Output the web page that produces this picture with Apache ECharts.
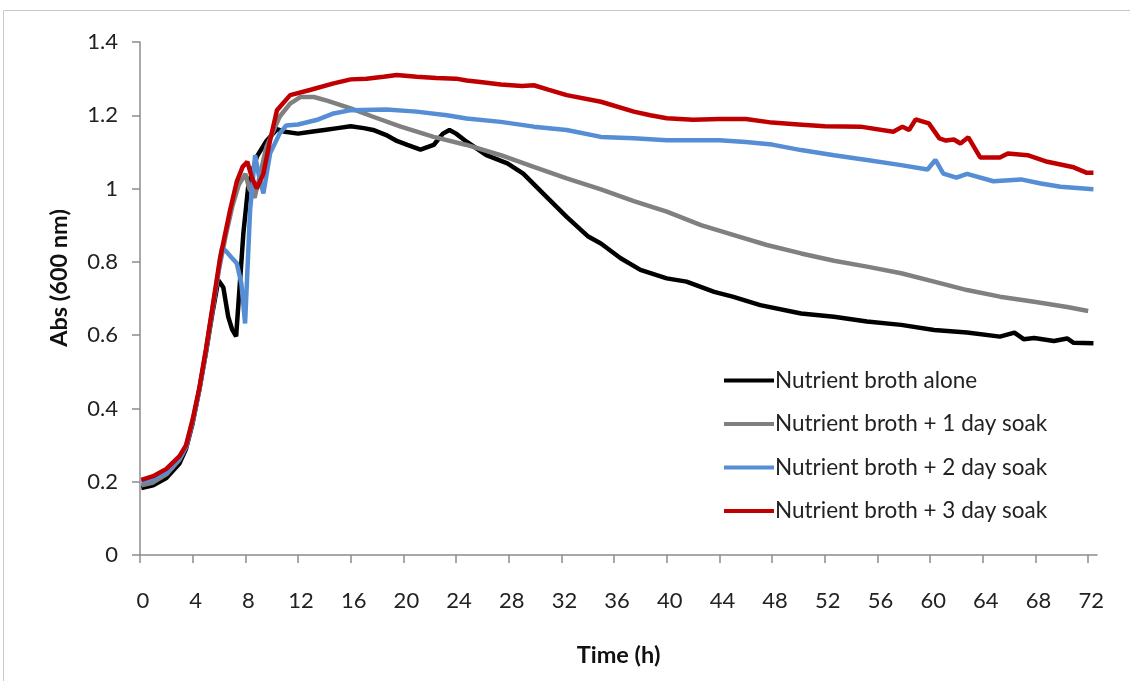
<!DOCTYPE html>
<html>
<head>
<meta charset="utf-8">
<script src="https://cdn.jsdelivr.net/npm/echarts@6/dist/echarts.min.js"></script>
<style>
html,body{margin:0;padding:0;background:#fff;}
#chart{width:1130px;height:681px;}
</style>
</head>
<body>
<div id="chart"></div>
<script>
// ---- Data (time in hours, absorbance at 600 nm) ----
const seriesNames = [
  'Nutrient broth alone',
  'Nutrient broth + 1 day soak',
  'Nutrient broth + 2 day soak',
  'Nutrient broth + 3 day soak'
];

const blackTime = [0.1,1,2,3,3.5,4,4.5,5,5.5,5.95,6.33,6.7,7.0,7.3,7.6,7.85,8.23,8.87,9.6,10.4,11,12,13,14,15,16,17,17.7,18.7,19.5,20.3,21.3,22.3,23,23.5,24,24.8,26.3,27.9,29.1,30.6,32.4,34,35,36.5,38,40,41.5,43.6,45,47.1,50.2,52.7,55.2,57.8,60.3,62.8,65.3,66.4,67.1,67.9,69.4,70.4,70.9,72.4];
const blackAbs  = [0.183,0.19,0.21,0.25,0.29,0.36,0.45,0.55,0.66,0.75,0.73,0.65,0.615,0.597,0.75,0.878,1.01,1.087,1.13,1.162,1.155,1.15,1.155,1.16,1.165,1.17,1.165,1.16,1.146,1.13,1.119,1.106,1.119,1.15,1.16,1.15,1.128,1.091,1.069,1.041,0.987,0.923,0.87,0.85,0.81,0.778,0.755,0.746,0.718,0.705,0.682,0.659,0.650,0.637,0.628,0.614,0.607,0.596,0.607,0.589,0.592,0.584,0.591,0.579,0.578];

const grayTime = [0.1,1,2,3,3.5,4,4.5,5,5.5,6,6.5,7,7.5,8.0,8.3,8.7,9.0,9.6,10.6,11.4,12.2,13.2,14.2,16,17.7,19.8,22.3,24.8,27.4,29.9,32.4,35,37.5,40,42.6,45.1,47.6,50.2,52.7,55.2,57.8,60.3,62.8,65.3,67.9,70.4,72];
const grayAbs  = [0.19,0.198,0.22,0.26,0.295,0.365,0.45,0.555,0.67,0.78,0.87,0.95,1.01,1.04,1.0,0.975,1.02,1.114,1.196,1.232,1.25,1.25,1.24,1.219,1.196,1.169,1.141,1.119,1.091,1.059,1.028,0.998,0.966,0.937,0.90,0.873,0.846,0.823,0.803,0.787,0.769,0.746,0.723,0.705,0.691,0.677,0.666];

const blueTime = [0.1,1,2,3,3.5,4,4.5,5,5.5,5.9,6.2,6.46,7.0,7.35,7.7,7.98,8.36,8.74,9.0,9.37,9.88,10.6,11.1,12,13.4,14.7,16,18.7,21,23.3,24.8,27.4,29.9,32.4,35,37.5,40,44,46,48,50.2,52.7,55.2,57.8,59.8,60.4,61,62,62.8,64.8,66.9,68.4,69.9,72.4];
const blueAbs  = [0.2,0.208,0.225,0.262,0.297,0.365,0.45,0.555,0.67,0.76,0.835,0.832,0.81,0.796,0.74,0.632,0.941,1.091,1.04,0.987,1.096,1.15,1.172,1.175,1.187,1.205,1.214,1.216,1.21,1.2,1.191,1.182,1.169,1.16,1.141,1.137,1.132,1.132,1.127,1.12,1.105,1.091,1.078,1.064,1.052,1.078,1.041,1.030,1.040,1.02,1.025,1.014,1.005,0.998];

const redTime = [0.1,1,2,3,3.5,4,4.5,5,5.5,6.08,6.84,7.35,7.8,8.15,8.5,8.87,9.37,9.88,10.4,11.4,12.9,14.7,16,17.2,18.5,19.5,21,22.5,24,24.8,26,27.4,29,29.9,31,32.4,35,37.5,38.75,40,42,44,46,48,50,52,54.7,57.2,57.9,58.4,58.9,59.9,60.7,61.2,61.8,62.3,62.9,63.8,65.3,65.9,67.4,68.9,70.9,71.9,72.4];
const redAbs  = [0.205,0.215,0.235,0.27,0.3,0.37,0.455,0.56,0.675,0.81,0.941,1.019,1.06,1.073,1.03,1.0,1.041,1.132,1.214,1.255,1.269,1.287,1.298,1.3,1.305,1.31,1.305,1.302,1.3,1.295,1.29,1.284,1.28,1.282,1.27,1.255,1.237,1.21,1.2,1.192,1.188,1.19,1.19,1.18,1.175,1.17,1.169,1.155,1.169,1.16,1.189,1.178,1.137,1.131,1.134,1.123,1.14,1.085,1.085,1.096,1.091,1.073,1.058,1.043,1.043];

const xTickValues = [0,4,8,12,16,20,24,28,32,36,40,44,48,52,56,60,64,68,72];
const yTickValues = [0,0.2,0.4,0.6,0.8,1,1.2,1.4];

const colors = ['#000000', '#808080', '#558ED5', '#C00000'];

function pairs(t, v) { return t.map((x, i) => [x, v[i]]); }
const seriesData = [
  pairs(blackTime, blackAbs),
  pairs(grayTime, grayAbs),
  pairs(blueTime, blueAbs),
  pairs(redTime, redAbs)
];

const chart = echarts.init(document.getElementById('chart'), null, { renderer: 'canvas' });
const FONT = 'Lato, "Open Sans", sans-serif';

chart.setOption({
  animation: false,
  backgroundColor: '#ffffff',
  color: colors,
  graphic: [{
    type: 'rect',
    shape: { x: 3.5, y: 10.5, width: 1400, height: 1000 },
    style: { fill: 'none', stroke: '#c8c8c8', lineWidth: 1 },
    silent: true
  }],
  grid: { left: 140, top: 42, right: 33, bottom: 126, containLabel: false },
  legend: {
    orient: 'vertical',
    left: 719,
    top: 364,
    icon: 'rect',
    itemWidth: 50,
    itemHeight: 4,
    itemGap: 20.5,
    textStyle: { fontFamily: FONT, fontSize: 22.5, color: '#222', lineHeight: 22, padding: [0, 0, 0, -4] },
    data: seriesNames
  },
  xAxis: {
    type: 'value',
    min: 0,
    max: 72.67,
    interval: 4,
    name: 'Time (h)',
    nameLocation: 'middle',
    nameGap: 88,
    nameTextStyle: { fontFamily: FONT, fontSize: 23.5, fontWeight: 'bold', color: '#111' },
    splitLine: { show: false },
    axisLine: { show: true, lineStyle: { color: '#8c8c8c', width: 1.5 } },
    axisTick: { show: true, length: 8, lineStyle: { color: '#8c8c8c', width: 1.5 }, customValues: xTickValues },
    axisLabel: { fontFamily: FONT, fontSize: 22, color: '#222', margin: 35, padding: [0, 0, 0, 6], customValues: xTickValues }
  },
  yAxis: {
    type: 'value',
    min: 0,
    max: 1.4,
    interval: 0.2,
    name: 'Abs (600 nm)',
    nameLocation: 'middle',
    nameGap: 69,
    nameTextStyle: { fontFamily: FONT, fontSize: 23.5, fontWeight: 'bold', color: '#111', padding: [0, 0, 0, 41] },
    splitLine: { show: false },
    axisLine: { show: true, lineStyle: { color: '#8c8c8c', width: 1.5 } },
    axisTick: { show: true, length: 8, lineStyle: { color: '#8c8c8c', width: 1.5 } },
    axisLabel: { fontFamily: FONT, fontSize: 22, color: '#222', margin: 22,
      formatter: v => String(Math.round(v * 10) / 10) }
  },
  series: seriesNames.map((name, i) => ({
    name: name,
    type: 'line',
    data: seriesData[i],
    showSymbol: false,
    symbol: 'none',
    smooth: false,
    lineStyle: { color: colors[i], width: 4.5 },
    itemStyle: { color: colors[i] },
    z: 2 + i
  }))
});
</script>
</body>
</html>
